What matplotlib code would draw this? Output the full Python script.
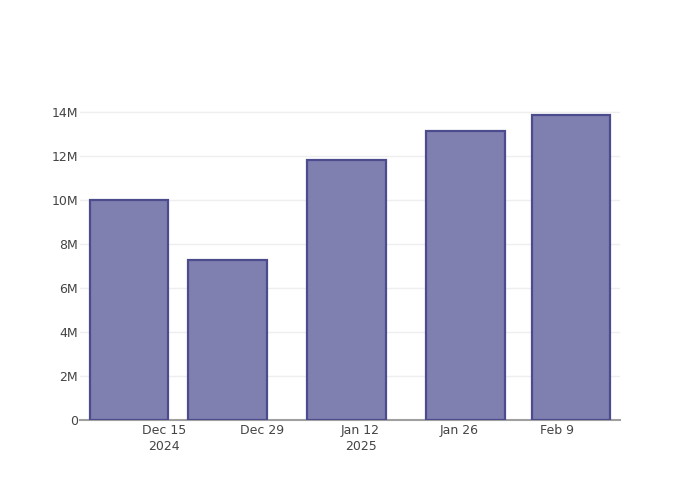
import matplotlib
matplotlib.use("Agg")
import matplotlib.pyplot as plt
import matplotlib.dates as mdates
import datetime as dt

dates = ["2024-12-10", "2024-12-24", "2025-01-10", "2025-01-27", "2025-02-11"]
values = [10.02e6, 7.28e6, 11.83e6, 13.15e6, 13.85e6]
tick_dates = ["2024-12-15", "2024-12-29", "2025-01-12", "2025-01-26", "2025-02-09"]
tick_labels = ["Dec 15\n2024", "Dec 29", "Jan 12\n2025", "Jan 26", "Feb 9"]
y_ticks = [0, 2e6, 4e6, 6e6, 8e6, 10e6, 12e6, 14e6]
y_labels = ["0", "2M", "4M", "6M", "8M", "10M", "12M", "14M"]

plt.rcParams['font.family'] = ['DejaVu Sans']

fig = plt.figure(figsize=(7, 5), dpi=100)
ax = fig.add_axes([80/700, 80/500, 540/700, 320/500])

x = [mdates.date2num(dt.datetime.fromisoformat(d)) for d in dates]
ax.bar(x, values, width=11.2, color='#7f7fb0', edgecolor='#4b4b8e', linewidth=1.6, zorder=3)

ax.set_xlim(mdates.date2num(dt.datetime(2024, 12, 3, 0)), mdates.date2num(dt.datetime(2025, 2, 18, 0)))
ax.set_ylim(0, 14.545e6)

ax.set_xticks([mdates.date2num(dt.datetime.fromisoformat(d)) for d in tick_dates])
ax.set_xticklabels(tick_labels, fontsize=9, color='#444444', linespacing=1.3)
ax.set_yticks(y_ticks)
ax.set_yticklabels(y_labels, fontsize=9, color='#444444')
ax.tick_params(axis='both', length=0)
ax.tick_params(axis='x', pad=3)
ax.tick_params(axis='y', pad=1.5)

ax.grid(axis='y', color='#eeeeee', linewidth=1, zorder=0)
for s in ['top', 'right', 'left']:
    ax.spines[s].set_visible(False)
ax.spines['bottom'].set_color('#a0a0a0')
ax.spines['bottom'].set_linewidth(1.5)
ax.spines['bottom'].set_zorder(2)

fig.savefig("out.png", dpi=100)
